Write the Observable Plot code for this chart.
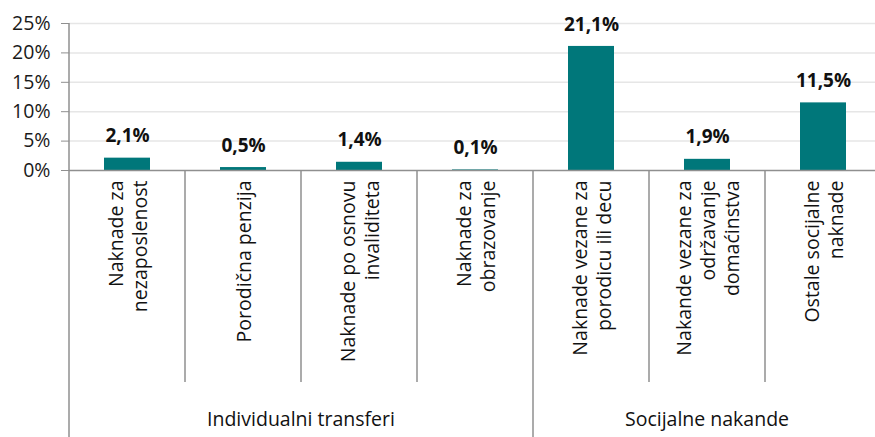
<!DOCTYPE html>
<html><head><meta charset="utf-8">
<script src="https://cdn.jsdelivr.net/npm/d3@7"></script>
<script src="https://cdn.jsdelivr.net/npm/@observablehq/plot@0.6"></script>
<style>body{margin:0;background:#fff} svg{display:block}</style>
</head><body><div id="chart"></div>
<script>
const categories = ["Naknade za nezaposlenost","Porodična penzija","Naknade po osnovu invaliditeta","Naknade za obrazovanje","Naknade vezane za porodicu ili decu","Nakande vezane za održavanje domaćinstva","Ostale socijalne naknade"];
const categoryLabels = ["Naknade za\nnezaposlenost","Porodična penzija","Naknade po osnovu\ninvaliditeta","Naknade za\nobrazovanje","Naknade vezane za\nporodicu ili decu","Nakande vezane za\nodržavanje\ndomaćinstva","Ostale socijalne\nnaknade"];
const values = [2.1, 0.5, 1.4, 0.1, 21.1, 1.9, 11.5];
const valueLabels = ["2,1%","0,5%","1,4%","0,1%","21,1%","1,9%","11,5%"];
const groups = ["Individualni transferi","Individualni transferi","Individualni transferi","Individualni transferi","Socijalne nakande","Socijalne nakande","Socijalne nakande"];
const groupNames = ["Individualni transferi","Socijalne nakande"];
const yTicks = [0, 5, 10, 15, 20, 25];
const yTickLabels = ["0%","5%","10%","15%","20%","25%"];

const data = categories.map((c, i) => ({category: c, label: categoryLabels[i], value: values[i], valueLabel: valueLabels[i], group: groups[i]}));

const font = "'Open Sans', 'Noto Sans', sans-serif";
const fs = 19.5;
const axisColor = "#8f8f8f";
const plot = Plot.plot({
  width: 875, height: 437,
  marginLeft: 69, marginRight: 0, marginTop: 23, marginBottom: 267,
  style: {fontFamily: font, background: "#fff", color: "#1a1a1a", overflow: "visible"},
  x: {domain: categories, range: [69, 881], padding: 0, axis: null},
  y: {domain: [0, 25], range: [170, 23], axis: null},
  marks: [
    Plot.ruleY(yTicks.filter(d => d > 0), {stroke: "#e6e6e6", strokeWidth: 1.5}),
    Plot.axisY({ticks: yTicks, tickFormat: d => yTickLabels[yTicks.indexOf(d)], label: null, tickSize: 8, tickPadding: 11, fontSize: 19.5, stroke: axisColor, fill: "#1a1a1a"}),
    Plot.barY(data, {x: "category", y: "value", fill: "#00777a", insetLeft: 35, insetRight: 35}),
    Plot.text(data, {x: "category", y: "value", text: "valueLabel", dy: -22, fontWeight: "bold", fontSize: 19, fill: "#111"}),
    Plot.text(data, {x: "category", y: 0, text: "label", rotate: -90, textAnchor: "end", lineAnchor: "middle", dy: 10, fontSize: fs, lineHeight: 1.22, fill: "#111"}),
    Plot.ruleY([0], {stroke: axisColor, strokeWidth: 1.5})
  ]
});
document.getElementById("chart").appendChild(plot);

const svg = d3.select(plot);
const xs = plot.scale("x");
const ys = plot.scale("y");
const step = xs.step;
const x0 = xs.apply(categories[0]);
// y axis line
svg.append("line").attr("x1", x0).attr("x2", x0).attr("y1", ys.apply(25)).attr("y2", 437).attr("stroke", axisColor).attr("stroke-width", 1.5);
// separators
categories.forEach((c, i) => {
  if (i === 0) return;
  const bx = xs.apply(c);
  const isGroup = groups[i] !== groups[i - 1];
  svg.append("line").attr("x1", bx).attr("x2", bx).attr("y1", ys.apply(0)).attr("y2", isGroup ? 437 : 382).attr("stroke", axisColor).attr("stroke-width", 1.5);
});
// group labels
groupNames.forEach(g => {
  const idx = groups.map((d, i) => d === g ? i : -1).filter(i => i >= 0);
  const a = xs.apply(categories[idx[0]]);
  const b = xs.apply(categories[idx[idx.length - 1]]) + step;
  svg.append("text").attr("x", (a + b) / 2).attr("y", 418).attr("text-anchor", "middle").attr("dominant-baseline", "central")
    .attr("font-family", font).attr("font-size", fs).attr("fill", "#111").text(g);
});
</script>
</body></html>
